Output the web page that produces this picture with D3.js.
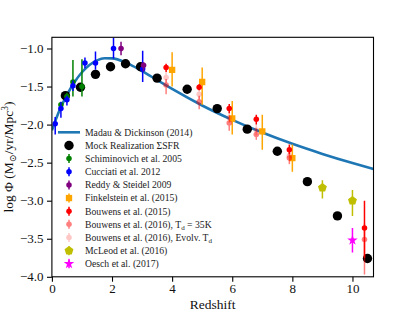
<!DOCTYPE html>
<html>
<head>
<meta charset="utf-8">
<script src="https://cdn.jsdelivr.net/npm/d3@7"></script>
<style>
  body { margin: 0; background: #fff; }
  svg text { font-family: "Liberation Serif", "DejaVu Serif", serif; }
</style>
</head>
<body>
<div id="chart"></div>
<script>
// Madau & Dickinson (2014) curve
const madauZ = [0, 0.25, 0.5, 0.75, 1, 1.25, 1.5, 1.75, 2, 2.5, 3, 3.5, 4, 5, 6, 7, 8, 9, 10, 10.7];
const madauLogSFR = [-2.075, -1.816, -1.609, -1.443, -1.312, -1.217, -1.157, -1.129, -1.130, -1.192, -1.297, -1.414, -1.532, -1.749, -1.938, -2.105, -2.253, -2.385, -2.505, -2.583];

// Mock realization (black circles)
const mockZ = [0.45, 0.95, 1.45, 1.95, 2.45, 2.95, 3.5, 4.5, 5.5, 6.5, 7.5, 8.5, 9.5, 10.5];
const mockSFR = [-1.62, -1.51, -1.34, -1.24, -1.20, -1.24, -1.39, -1.535, -1.79, -2.06, -2.35, -2.75, -3.20, -3.76];

// observations: z, value, error low, error high
const schimZ = [0.3, 0.5, 0.7, 1.0];
const schimSFR = [-1.74, -1.63, -1.44, -1.50];
const schimLo = [-1.77, -1.68, -1.63, -1.63];
const schimHi = [-1.71, -1.58, -1.15, -1.14];

const cucciatiZ = [0.11, 0.3, 0.5, 0.7, 1.1, 1.45, 2.05, 3.02];
const cucciatiSFR = [-1.99, -1.79, -1.675, -1.49, -1.19, -1.19, -1.00, -1.27];
const cucciatiLo = [-2.13, -1.91, -1.75, -1.56, -1.26, -1.28, -1.13, -1.44];
const cucciatiHi = [-1.90, -1.70, -1.62, -1.42, -1.12, -1.04, -0.86, -1.03];

const reddyZ = [2.3, 3.05];
const reddySFR = [-1.00, -1.22];
const reddyLo = [-1.09, -1.30];
const reddyHi = [-0.91, -1.18];

const finkZ = [4.0, 5.0, 6.0, 7.0, 8.0];
const finkSFR = [-1.28, -1.44, -1.92, -2.09, -2.44];
const finkLo = [-1.50, -1.74, -2.13, -2.33, -2.62];
const finkHi = [-1.05, -1.25, -1.69, -1.87, -2.26];

const bouw15Z = [3.8, 4.9, 5.9, 6.8, 7.9, 10.4];
const bouw15SFR = [-1.25, -1.51, -1.79, -1.93, -2.33, -3.36];
const bouw15Lo = [-1.31, -1.55, -1.85, -2.00, -2.39, -3.75];
const bouw15Hi = [-1.20, -1.47, -1.73, -1.87, -2.26, -3.00];

const bouw16Z = [3.8, 4.9, 5.9, 6.8, 7.9, 10.4];
const bouw16SFR = [-1.48, -1.70, -1.98, -2.13, -2.44, -3.51];
const bouw16Lo = [-1.60, -1.80, -2.08, -2.20, -2.52, -3.97];
const bouw16Hi = [-1.40, -1.62, -1.88, -2.05, -2.38, -3.30];

const bouwEvZ = [3.8, 4.9, 5.9, 6.8, 7.9];
const bouwEvSFR = [-1.38, -1.60, -1.91, -2.07, -2.41];
const bouwEvLo = [-1.45, -1.67, -1.98, -2.14, -2.48];
const bouwEvHi = [-1.31, -1.53, -1.84, -2.00, -2.34];

const mcleodZ = [9.0, 10.0];
const mcleodSFR = [-2.83, -3.00];
const mcleodLo = [-2.97, -3.20];
const mcleodHi = [-2.73, -2.86];

const oeschZ = [10.0];
const oeschSFR = [-3.52];
const oeschLo = [-3.68];
const oeschHi = [-3.36];

const xTicks = [0, 2, 4, 6, 8, 10];
const yTicks = [-1.0, -1.5, -2.0, -2.5, -3.0, -3.5, -4.0];

const width = 415, height = 311;
const mLeft = 51.9, mRight = 373.5, mTop = 37.3, mBottom = 276.8;

const x = d3.scaleLinear().domain([0, 10.7]).range([mLeft, mRight]);
const y = d3.scaleLinear().domain([-4.0, -0.853]).range([mBottom, mTop]);

const svg = d3.select("#chart").append("svg")
  .attr("width", width).attr("height", height);

svg.append("clipPath").attr("id", "clip")
  .append("rect").attr("x", mLeft).attr("y", mTop)
  .attr("width", mRight - mLeft).attr("height", mBottom - mTop);

const plot = svg.append("g").attr("clip-path", "url(#clip)");

// pentagon symbol
const pentagon = {
  draw(context, size) {
    const r = Math.sqrt(size / 2.378);
    for (let i = 0; i < 5; i++) {
      const a = -Math.PI / 2 + i * 2 * Math.PI / 5;
      if (i === 0) context.moveTo(r * Math.cos(a), r * Math.sin(a));
      else context.lineTo(r * Math.cos(a), r * Math.sin(a));
    }
    context.closePath();
  }
};

const series = [
  {label: "Schiminovich et al. 2005", z: schimZ, v: schimSFR, lo: schimLo, hi: schimHi, color: "green", op: 1, sym: d3.symbolCircle, size: 24},
  {label: "Cucciati et al. 2012", z: cucciatiZ, v: cucciatiSFR, lo: cucciatiLo, hi: cucciatiHi, color: "blue", op: 1, sym: d3.symbolCircle, size: 24},
  {label: "Reddy & Steidel 2009", z: reddyZ, v: reddySFR, lo: reddyLo, hi: reddyHi, color: "purple", op: 1, sym: d3.symbolCircle, size: 24},
  {label: "Finkelstein et al. (2015)", z: finkZ, v: finkSFR, lo: finkLo, hi: finkHi, color: "orange", op: 1, sym: d3.symbolSquare, size: 40},
  {label: "Bouwens et al. (2015)", z: bouw15Z, v: bouw15SFR, lo: bouw15Lo, hi: bouw15Hi, color: "red", op: 1, sym: d3.symbolCircle, size: 24},
  {label: "Bouwens et al. (2016), T", sub: "d", after: " = 35K", z: bouw16Z, v: bouw16SFR, lo: bouw16Lo, hi: bouw16Hi, color: "red", op: 0.5, sym: d3.symbolCircle, size: 24},
  {label: "Bouwens et al. (2016), Evolv. T", sub: "d", after: "", z: bouwEvZ, v: bouwEvSFR, lo: bouwEvLo, hi: bouwEvHi, color: "red", op: 0.22, sym: d3.symbolCircle, size: 24},
  {label: "McLeod et al. (2016)", z: mcleodZ, v: mcleodSFR, lo: mcleodLo, hi: mcleodHi, color: "#bfbf00", op: 1, sym: pentagon, size: 52},
  {label: "Oesch et al. (2017)", z: oeschZ, v: oeschSFR, lo: oeschLo, hi: oeschHi, color: "magenta", op: 1, sym: d3.symbolStar, size: 34}
];

// Madau curve
const line = d3.line()
  .x((d, i) => x(madauZ[i]))
  .y(d => y(d))
  .curve(d3.curveMonotoneX);

plot.append("path")
  .attr("d", line(madauLogSFR))
  .attr("fill", "none")
  .attr("stroke", "#1f77b4")
  .attr("stroke-width", 2.6);

// mock points
plot.selectAll(".mock")
  .data(mockZ)
  .enter()
  .append("circle")
  .attr("cx", d => x(d))
  .attr("cy", (d, i) => y(mockSFR[i]))
  .attr("r", 4.7)
  .attr("fill", "black");

// observations
series.forEach(s => {
  const g = plot.append("g").attr("opacity", s.op);
  g.selectAll("line")
    .data(s.z)
    .enter()
    .append("line")
    .attr("x1", d => x(d)).attr("x2", d => x(d))
    .attr("y1", (d, i) => y(s.lo[i]))
    .attr("y2", (d, i) => y(s.hi[i]))
    .attr("stroke", s.color)
    .attr("stroke-width", 1.5);
  g.selectAll("path")
    .data(s.z)
    .enter()
    .append("path")
    .attr("transform", (d, i) => `translate(${x(d)},${y(s.v[i])})`)
    .attr("d", d3.symbol().type(s.sym).size(s.size))
    .attr("fill", s.color);
});

// frame
svg.append("rect")
  .attr("x", mLeft).attr("y", mTop)
  .attr("width", mRight - mLeft).attr("height", mBottom - mTop)
  .attr("fill", "none")
  .attr("stroke", "black")
  .attr("stroke-width", 1.1);

// axes
const xAxis = svg.append("g")
  .attr("transform", `translate(0,${mBottom})`)
  .call(d3.axisBottom(x).tickValues(xTicks).tickFormat(d3.format("d")).tickSize(4.9).tickPadding(2.5));
const yAxis = svg.append("g")
  .attr("transform", `translate(${mLeft},0)`)
  .call(d3.axisLeft(y).tickValues(yTicks).tickFormat(d3.format(".1f")).tickSize(4.9).tickPadding(3.5));

[xAxis, yAxis].forEach(a => {
  a.select(".domain").remove();
  a.selectAll("line").attr("stroke", "black").attr("stroke-width", 1.1);
  a.selectAll("text")
    .attr("font-family", "Liberation Serif, serif")
    .attr("font-size", 13)
    .attr("fill", "#111");
});

svg.append("text")
  .attr("x", (mLeft + mRight) / 2)
  .attr("y", 309)
  .attr("text-anchor", "middle")
  .attr("font-size", 13.5)
  .attr("fill", "#111")
  .text("Redshift");

const yl = svg.append("text")
  .attr("transform", `translate(13,${(mTop + mBottom) / 2}) rotate(-90)`)
  .attr("text-anchor", "middle")
  .attr("font-size", 13.5)
  .attr("fill", "#111");
yl.append("tspan").text("log Φ (M");
yl.append("tspan").attr("font-size", 9.5).attr("dy", 3).text("⊙");
yl.append("tspan").attr("dy", -3).text("/yr/Mpc");
yl.append("tspan").attr("font-size", 9.5).attr("dy", -5).text("3");
yl.append("tspan").attr("dy", 5).text(")");

// legend
const legX = 69, legY0 = 132.3, legDy = 13.15, textX = 85;
const legend = svg.append("g");

function legendText(row, s) {
  const t = legend.append("text")
    .attr("x", textX)
    .attr("y", legY0 + row * legDy + 3.4)
    .attr("font-size", 9.7)
    .attr("fill", "#222");
  t.append("tspan").text(s.label);
  if (s.sub) {
    t.append("tspan").attr("font-size", 7).attr("dy", 1.8).text(s.sub);
    if (s.after) t.append("tspan").attr("dy", -1.8).text(s.after);
  }
}

legend.append("line")
  .attr("x1", 58).attr("x2", 80)
  .attr("y1", legY0).attr("y2", legY0)
  .attr("stroke", "#1f77b4").attr("stroke-width", 2.6);
legendText(0, {label: "Madau & Dickinson (2014)"});

legend.append("circle")
  .attr("cx", legX).attr("cy", legY0 + legDy)
  .attr("r", 4.7).attr("fill", "black");
legendText(1, {label: "Mock Realization ΣSFR"});

series.forEach((s, i) => {
  const cy = legY0 + (i + 2) * legDy;
  const g = legend.append("g").attr("opacity", s.op);
  g.append("line")
    .attr("x1", legX).attr("x2", legX)
    .attr("y1", cy - 4.5).attr("y2", cy + 4.5)
    .attr("stroke", s.color).attr("stroke-width", 1.5);
  g.append("path")
    .attr("transform", `translate(${legX},${cy})`)
    .attr("d", d3.symbol().type(s.sym).size(s.size))
    .attr("fill", s.color);
  legendText(i + 2, s);
});
</script>
</body>
</html>
